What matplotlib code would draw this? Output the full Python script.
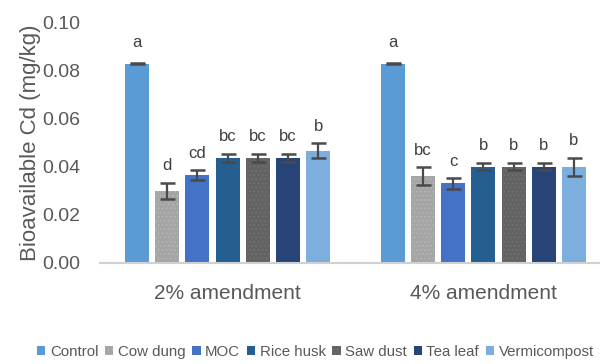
import matplotlib
matplotlib.use("Agg")
import matplotlib.pyplot as plt
import numpy as np

plt.rcParams["font.family"] = ["Liberation Sans", "DejaVu Sans"]
plt.rcParams["hatch.linewidth"] = 0.4

# data
groups = ["2% amendment", "4% amendment"]
treatments = ["Control", "Cow dung", "MOC", "Rice husk", "Saw dust", "Tea leaf", "Vermicompost"]
means_2 = [0.0827, 0.030, 0.0365, 0.0436, 0.0436, 0.0436, 0.0465]
errs_2 = [0.0002, 0.0033, 0.0019, 0.0018, 0.0018, 0.0018, 0.0031]
means_4 = [0.0827, 0.036, 0.033, 0.040, 0.040, 0.040, 0.040]
errs_4 = [0.0002, 0.0037, 0.0022, 0.0016, 0.0016, 0.0016, 0.0037]
letters_2 = ["a", "d", "cd", "bc", "bc", "bc", "b"]
letters_4 = ["a", "bc", "c", "b", "b", "b", "b"]

colors = ["#5B9BD5", "#A5A5A5", "#4472C4", "#255E91", "#636363", "#264478", "#7CAFDD"]
hatches = [None, "....", None, None, "....", None, None]
hatch_cols = [None, "#BDBDBD", None, None, "#7A7A7A", None, None]

fig = plt.figure(figsize=(6.0, 3.64), dpi=100)
ax = fig.add_axes([0.166, 0.2775, 0.853, 0.662])

x = np.arange(len(groups))
step = 0.118
width = 0.094
means = np.array([means_2, means_4])
errs = np.array([errs_2, errs_4])
letters = [letters_2, letters_4]

for i, name in enumerate(treatments):
    xpos = x + (i - 3) * step
    bars = ax.bar(xpos, means[:, i], width, color=colors[i], label=name, zorder=2)
    if hatches[i]:
        for b in bars:
            b.set_hatch(hatches[i])
            b.set_edgecolor(hatch_cols[i])
            b.set_linewidth(0)
    ax.errorbar(xpos, means[:, i], yerr=errs[:, i], fmt="none", ecolor="#4A4A4A",
                elinewidth=1.6, capsize=5.4, capthick=1.8, zorder=3)
    for g in range(len(groups)):
        # control letters sit a little higher in the original
        off = 12 if i == 0 else 9
        ax.annotate(letters[g][i], (xpos[g], means[g, i] + errs[g, i]),
                    xytext=(0, off), textcoords="offset points", ha="center",
                    va="baseline", fontsize=12, color="#404040")

ax.set_xlim(-0.5, 1.5)
ax.set_ylim(0, 0.10)
ticks = np.arange(0, 0.101, 0.02)
ax.set_yticks(ticks)
ax.set_yticklabels([f"{v:.2f}" for v in ticks])
ax.set_xticks(x)
ax.set_xticklabels(groups)
ax.tick_params(axis="y", length=0, labelsize=14, colors="#595959", pad=14)
ax.tick_params(axis="x", length=0, labelsize=15, colors="#595959", pad=15)
for s in ["top", "right", "left"]:
    ax.spines[s].set_visible(False)
ax.spines["bottom"].set_color("#D0D0D0")
ax.spines["bottom"].set_linewidth(1.5)
ax.set_ylabel("Bioavailable Cd (mg/kg)", fontsize=16, color="#595959", labelpad=1)

fig.legend(loc="center left", bbox_to_anchor=(0.052, 0.033), ncol=7, frameon=False,
           fontsize=10.8, handlelength=0.55, handleheight=0.55, handletextpad=0.3,
           columnspacing=0.45, labelcolor="#595959", borderaxespad=0)

fig.savefig("out.png", dpi=100)
